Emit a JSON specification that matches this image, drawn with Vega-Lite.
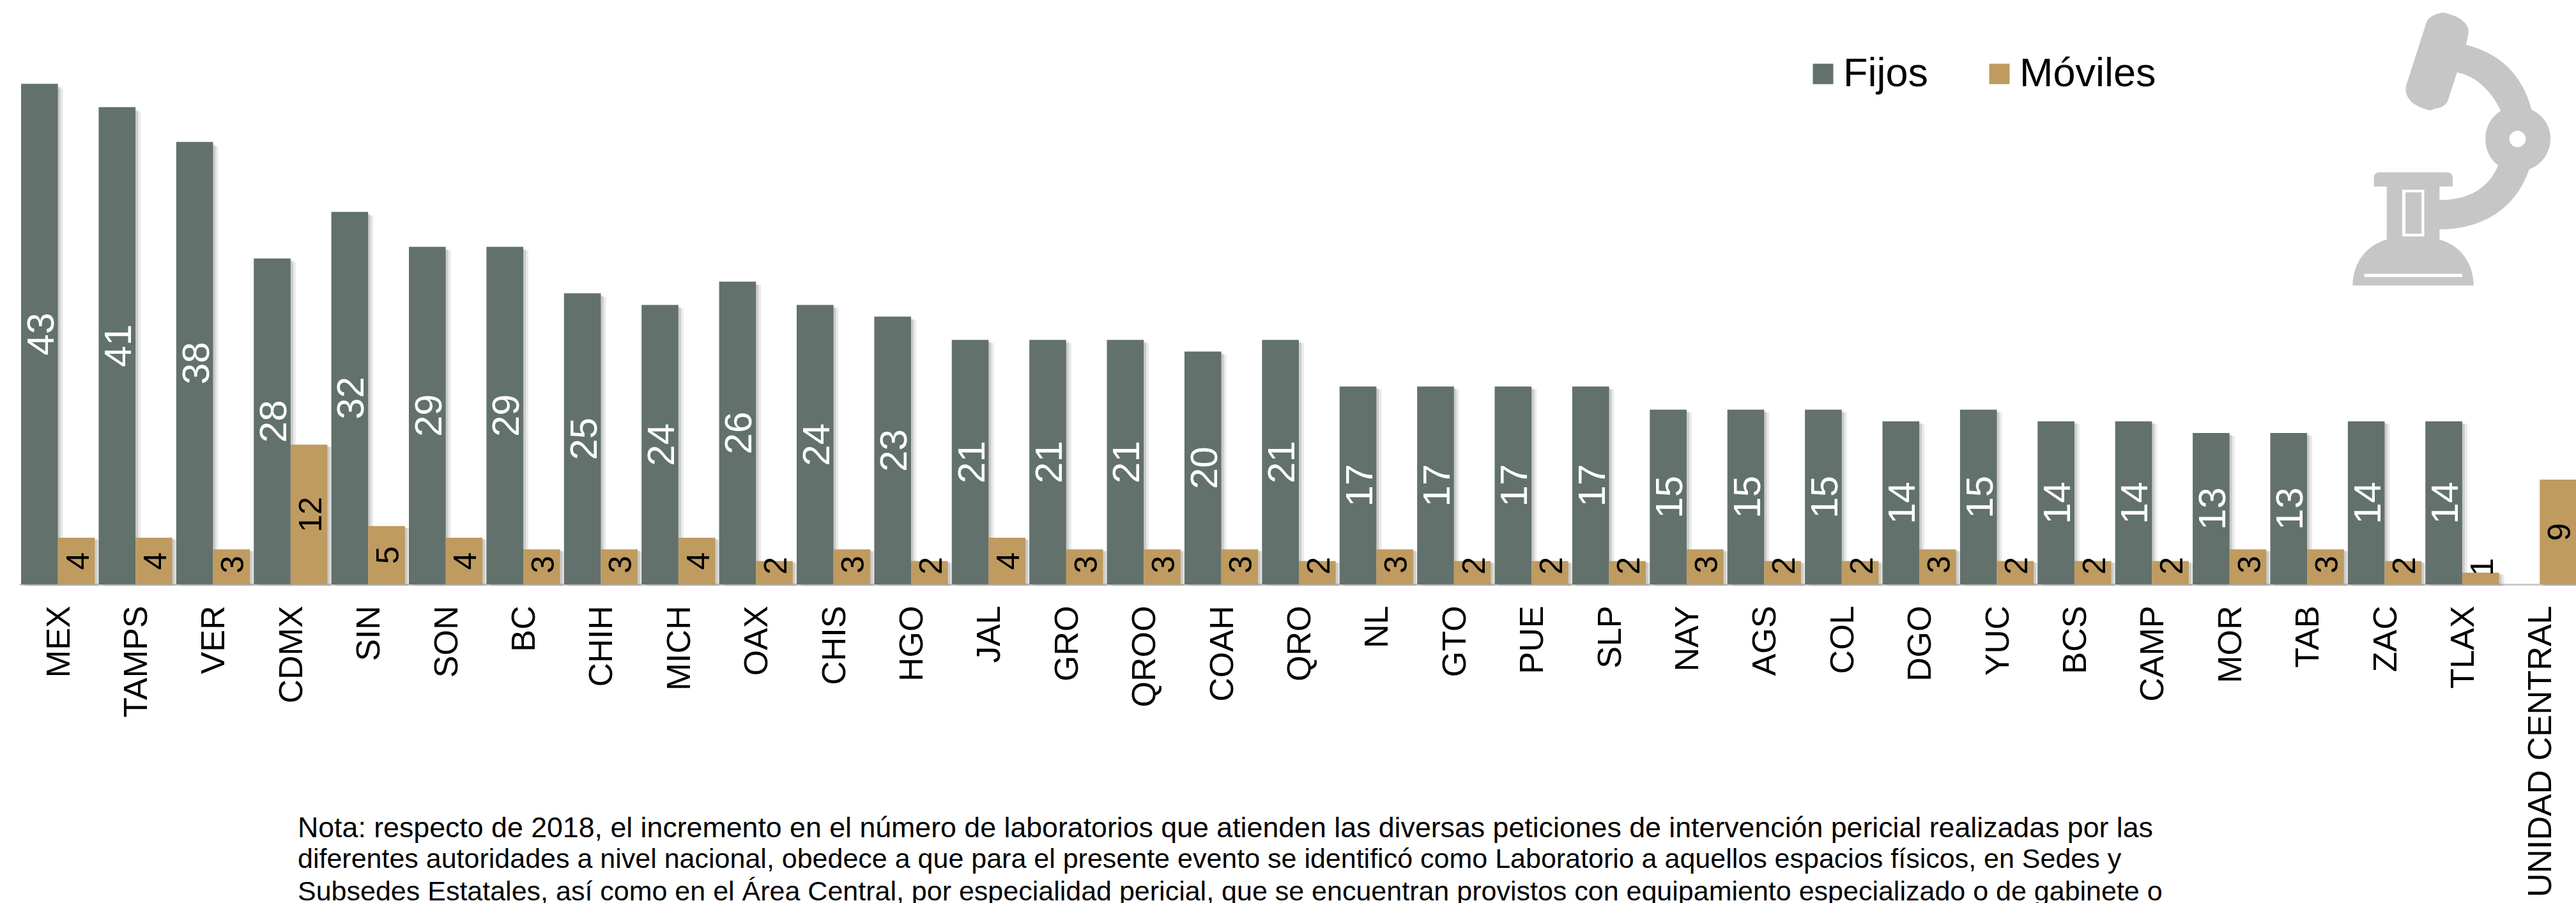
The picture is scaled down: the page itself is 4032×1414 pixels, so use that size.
{"$schema":"https://vega.github.io/schema/vega-lite/v6.json","width":4002,"height":915,"autosize":{"type":"none"},"padding":{"left":30,"top":0,"right":0,"bottom":499},"background":"white","config":{"view":{"stroke":null},"font":"Liberation Sans"},
"title":{"text":"Nota: respecto de 2018, el incremento en el número de laboratorios que atienden las diversas peticiones de intervención pericial realizadas por las","subtitle":["diferentes autoridades a nivel nacional, obedece a que para el presente evento se identificó como Laboratorio a aquellos espacios físicos, en Sedes y","Subsedes Estatales, así como en el Área Central, por especialidad pericial, que se encuentran provistos con equipamiento especializado o de gabinete o"],"orient":"bottom","anchor":"start","frame":"group","dx":436,"offset":-128,"font":"Liberation Sans","fontSize":44.7,"fontWeight":"normal","color":"#000000","subtitleFont":"Liberation Sans","subtitleFontSize":43,"subtitleFontWeight":"normal","subtitleColor":"#000000","subtitleLineHeight":51,"subtitlePadding":4},
"datasets":{"d":[
{"e":"MEX","t":"Fijos","v":43},{"e":"MEX","t":"Móviles","v":4},{"e":"TAMPS","t":"Fijos","v":41},{"e":"TAMPS","t":"Móviles","v":4},{"e":"VER","t":"Fijos","v":38},{"e":"VER","t":"Móviles","v":3},{"e":"CDMX","t":"Fijos","v":28},{"e":"CDMX","t":"Móviles","v":12},{"e":"SIN","t":"Fijos","v":32},{"e":"SIN","t":"Móviles","v":5},{"e":"SON","t":"Fijos","v":29},{"e":"SON","t":"Móviles","v":4},{"e":"BC","t":"Fijos","v":29},{"e":"BC","t":"Móviles","v":3},{"e":"CHIH","t":"Fijos","v":25},{"e":"CHIH","t":"Móviles","v":3},{"e":"MICH","t":"Fijos","v":24},{"e":"MICH","t":"Móviles","v":4},{"e":"OAX","t":"Fijos","v":26},{"e":"OAX","t":"Móviles","v":2},{"e":"CHIS","t":"Fijos","v":24},{"e":"CHIS","t":"Móviles","v":3},{"e":"HGO","t":"Fijos","v":23},{"e":"HGO","t":"Móviles","v":2},{"e":"JAL","t":"Fijos","v":21},{"e":"JAL","t":"Móviles","v":4},{"e":"GRO","t":"Fijos","v":21},{"e":"GRO","t":"Móviles","v":3},{"e":"QROO","t":"Fijos","v":21},{"e":"QROO","t":"Móviles","v":3},{"e":"COAH","t":"Fijos","v":20},{"e":"COAH","t":"Móviles","v":3},{"e":"QRO","t":"Fijos","v":21},{"e":"QRO","t":"Móviles","v":2},{"e":"NL","t":"Fijos","v":17},{"e":"NL","t":"Móviles","v":3},{"e":"GTO","t":"Fijos","v":17},{"e":"GTO","t":"Móviles","v":2},{"e":"PUE","t":"Fijos","v":17},{"e":"PUE","t":"Móviles","v":2},{"e":"SLP","t":"Fijos","v":17},{"e":"SLP","t":"Móviles","v":2},{"e":"NAY","t":"Fijos","v":15},{"e":"NAY","t":"Móviles","v":3},{"e":"AGS","t":"Fijos","v":15},{"e":"AGS","t":"Móviles","v":2},{"e":"COL","t":"Fijos","v":15},{"e":"COL","t":"Móviles","v":2},{"e":"DGO","t":"Fijos","v":14},{"e":"DGO","t":"Móviles","v":3},{"e":"YUC","t":"Fijos","v":15},{"e":"YUC","t":"Móviles","v":2},{"e":"BCS","t":"Fijos","v":14},{"e":"BCS","t":"Móviles","v":2},{"e":"CAMP","t":"Fijos","v":14},{"e":"CAMP","t":"Móviles","v":2},{"e":"MOR","t":"Fijos","v":13},{"e":"MOR","t":"Móviles","v":3},{"e":"TAB","t":"Fijos","v":13},{"e":"TAB","t":"Móviles","v":3},{"e":"ZAC","t":"Fijos","v":14},{"e":"ZAC","t":"Móviles","v":2},{"e":"TLAX","t":"Fijos","v":14},{"e":"TLAX","t":"Móviles","v":1},{"e":"UNIDAD CENTRAL","t":"Móviles","v":9}],
"icono":[{"nombre":"microscopio","e":"TLAX","altura":37.4}]},
"data":{"name":"d"},
"encoding":{"x":{"field":"e","type":"nominal","sort":null,"title":null,"scale":{"domain":["MEX","TAMPS","VER","CDMX","SIN","SON","BC","CHIH","MICH","OAX","CHIS","HGO","JAL","GRO","QROO","COAH","QRO","NL","GTO","PUE","SLP","NAY","AGS","COL","DGO","YUC","BCS","CAMP","MOR","TAB","ZAC","TLAX","UNIDAD CENTRAL"],"range":[0,4006],"paddingInner":0.05,"paddingOuter":0.025},"axis":{"labelAngle":270,"labelAlign":"right","labelBaseline":"middle","labelFont":"Liberation Sans","labelFontSize":52,"labelColor":"#000000","labelPadding":33,"labelOffset":2,"labelOverlap":false,"labelLimit":0,"ticks":false,"domainColor":"#cccccc","domainWidth":3,"grid":false}}},
"layer":[
{"mark":{"type":"bar","fill":"#888888","opacity":0.18},"encoding":{"xOffset":{"field":"t","type":"nominal","scale":{"domain":["Fijos","Móviles"],"range":[8,123.3]}},"y":{"field":"v","type":"quantitative","axis":null,"scale":{"domain":[0,50.2],"range":[918,8],"nice":false}}}},
{"mark":{"type":"bar","fill":"#888888","opacity":0.3},"encoding":{"xOffset":{"field":"t","type":"nominal","scale":{"domain":["Fijos","Móviles"],"range":[4,119.3]}},"y":{"field":"v","type":"quantitative","axis":null,"scale":{"domain":[0,50.2],"range":[917,5],"nice":false}}}},
{"mark":{"type":"bar"},"encoding":{"xOffset":{"field":"t","type":"nominal","scale":{"domain":["Fijos","Móviles"],"range":[0,115.3]}},"y":{"field":"v","type":"quantitative","axis":null,"scale":{"domain":[0,50.2],"range":[915,0],"nice":false}},"color":{"field":"t","type":"nominal","scale":{"domain":["Fijos","Móviles"],"range":["#62716c","#bf9b60"]},"legend":{"orient":"none","legendX":2792,"legendY":84,"direction":"horizontal","title":null,"symbolType":"square","symbolSize":1024,"symbolStrokeWidth":0,"labelFont":"Liberation Sans","labelFontSize":63,"labelColor":"#000000","labelOffset":0,"labelLimit":400,"columnPadding":79,"padding":0}}}},
{"transform":[{"filter":"datum.t=='Fijos'"}],"mark":{"type":"text","angle":270,"align":"center","baseline":"middle","font":"Liberation Sans","fontSize":60,"color":"#ffffff"},"encoding":{"xOffset":{"field":"t","type":"nominal","scale":{"domain":["Fijos","Móviles"],"range":[4,119.3]}},"y":{"field":"v","type":"quantitative","axis":null,"scale":{"domain":[0,100.4],"range":[915,0],"nice":false}},"text":{"field":"v","type":"quantitative"}}},
{"transform":[{"filter":"datum.t=='Móviles' && datum.v>=4"}],"mark":{"type":"text","angle":270,"align":"center","baseline":"middle","font":"Liberation Sans","fontSize":50,"color":"#000000"},"encoding":{"xOffset":{"field":"t","type":"nominal","scale":{"domain":["Fijos","Móviles"],"range":[4,119.3]}},"y":{"field":"v","type":"quantitative","axis":null,"scale":{"domain":[0,100.4],"range":[915,0],"nice":false}},"text":{"field":"v","type":"quantitative"}}},
{"transform":[{"filter":"datum.t=='Móviles' && datum.v<4"}],"mark":{"type":"text","angle":270,"align":"center","baseline":"middle","font":"Liberation Sans","fontSize":50,"color":"#000000"},"encoding":{"xOffset":{"field":"t","type":"nominal","scale":{"domain":["Fijos","Móviles"],"range":[4,119.3]}},"y":{"field":"v","type":"quantitative","axis":null,"scale":{"domain":[-14.71,508.1],"range":[915,0],"nice":false,"zero":false}},"text":{"field":"v","type":"quantitative"}}},
{"data":{"name":"icono"},"mark":{"type":"point","filled":true,"size":184900,"opacity":1,"strokeWidth":0,"color":"#c6c6c6","xOffset":-16.6,"shape":"M.105 -.758 Q.48 -.665 .583 -.285 C.667 -.245 .72 -.169 .72 -.076 C.72 .016 .667 .109 .564 .149 C.48 .405 .255 .586 -.088 .586 L-.088 .66 C.067 .699 .161 .839 .161 .994 L-.72 .994 C-.72 .839 -.626 .699 -.472 .66 L-.472 .273 L-.566 .273 L-.566 .211 Q-.566 .169 -.523 .169 L-.045 .169 Q.0075 .169 .0075 .211 L.0075 .273 L-.088 .273 L-.088 .371 C.124 .374 .274 .281 .339 .118 C.274 .071 .246 .002 .246 -.076 C.246 -.153 .283 -.231 .358 -.278 C.293 -.417 .18 -.533 .039 -.557 L-.026 -.355 C-.045 -.309 -.082 -.301 -.12 -.293 L-.157 -.281 C-.214 -.293 -.27 -.324 -.289 -.34 C-.336 -.386 -.339 -.433 -.33 -.464 L-.186 -.913 C-.176 -.96 -.12 -.983 -.064 -.994 C.03 -.975 .124 -.929 .124 -.851 Z"},"encoding":{"x":{"field":"e","type":"nominal"},"y":{"field":"altura","type":"quantitative","axis":null,"scale":{"domain":[0,50.2],"range":[915,0],"nice":false}}}},
{"data":{"name":"icono"},"mark":{"type":"point","filled":true,"size":184900,"opacity":1,"strokeWidth":0,"color":"#ffffff","xOffset":-16.6,"shape":"M.42 -.073 A.06 .06 0 1 0 .54 -.073 A.06 .06 0 1 0 .42 -.073 Z M-.36 .296 H-.199 V.637 H-.36 Z M-.336 .316 V.617 H-.219 V.316 Z M-.636 .909 H.077 V.932 H-.636 Z"},"encoding":{"x":{"field":"e","type":"nominal"},"y":{"field":"altura","type":"quantitative","axis":null,"scale":{"domain":[0,50.2],"range":[915,0],"nice":false}}}}
],
"resolve":{"scale":{"y":"independent","xOffset":"independent"}}}
